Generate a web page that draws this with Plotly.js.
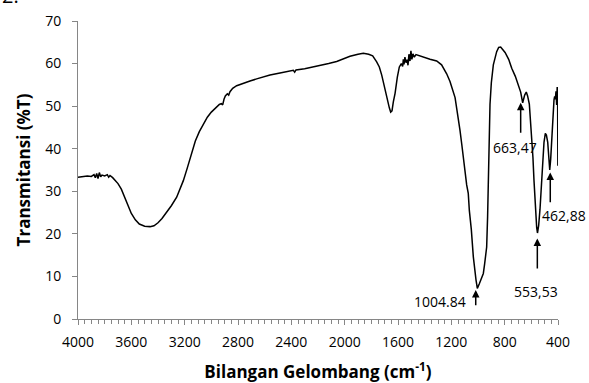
<!DOCTYPE html>
<html>
<head>
<meta charset="utf-8">
<script src="https://cdn.plot.ly/plotly-3.0.1.min.js"></script>
<style>html,body{margin:0;padding:0;background:#fff;}#chart{width:589px;height:383px;}</style>
</head>
<body>
<div id="chart"></div>
<script>
// Wavenumber (cm-1) and transmittance (%T)
const wavenumber = [4000,3960,3930,3900,3880,3870,3860,3850,3840,3830,3820,3800,3780,3770,3760,3740,3725,3700,3675,3650,3620,3600,3570,3540,3500,3460,3430,3400,3370,3340,3300,3260,3237,3210,3180,3150,3120,3090,3060,3030,3000,2970,2940,2925,2915,2905,2895,2880,2870,2860,2840,2810,2760,2710,2660,2610,2560,2485,2420,2385,2375,2365,2300,2250,2185,2120,2060,2010,1960,1900,1860,1820,1790,1760,1740,1722,1705,1685,1665,1655,1645,1635,1622,1605,1590,1575,1565,1560,1555,1548,1540,1532,1525,1518,1510,1503,1496,1488,1478,1465,1440,1400,1360,1310,1273,1235,1210,1172,1150,1135,1122,1110,1097,1085,1073,1065,1050,1035,1015,1005,990,975,960,950,935,928,923,916,910,900,885,860,845,830,815,797,770,747,720,697,680,665,650,638,628,615,605,597,588,580,570,560,554,545,535,525,515,505,495,487,477,468,462,455,448,443,436,430,425,420,415,410,406,403,401];
const transmittance = [33.3,33.5,33.6,33.5,33.9,33.2,34.2,33.0,34.4,33.4,33.8,33.6,33.9,33.3,33.7,33.2,32.6,31.8,30.5,28.5,26.5,24.8,23.3,22.3,21.8,21.7,21.9,22.6,23.6,24.8,26.6,28.6,30.2,32.5,35.5,38.8,41.8,44.0,45.8,47.4,48.6,49.6,50.4,50.6,50.3,51.6,52.4,52.9,52.6,53.4,54.2,54.8,55.4,55.9,56.4,56.9,57.3,57.8,58.2,58.4,58.0,58.5,58.8,59.1,59.5,60.0,60.5,61.1,61.7,62.2,62.4,62.2,61.8,60.4,59.2,57.3,54.8,51.9,49.6,48.6,48.9,51.0,53.0,56.8,59.2,60.0,59.3,61.0,59.8,61.5,60.2,60.9,59.6,62.2,60.6,63.0,61.0,62.3,61.5,62.1,61.8,61.5,61.0,60.6,59.7,57.6,55.8,52.0,48.0,44.3,41.1,38.0,33.3,31.5,29.5,25.5,21.0,14.6,9.2,7.2,8.3,9.6,10.7,13.0,16.9,24.0,32.5,42.0,50.4,55.5,59.7,62.8,63.8,63.9,63.4,62.6,61.0,58.9,57.0,55.1,53.3,50.8,52.6,53.3,52.4,50.5,46.5,43.5,38.0,32.5,26.0,21.5,20.2,22.0,25.8,31.5,36.6,41.5,43.6,43.2,41.5,37.5,35.0,37.5,42.0,44.5,48.5,51.5,52.3,51.6,53.5,50.3,54.5,53.6,36.0];

// Peak labels: arrow head position (data) and label position (data)
const peakLabels = ['1004.84','663,47','553,53','462,88'];
const arrowHeadX = [1017,680,555,458];
const arrowHeadY = [6.8,50.8,18.9,34.4];
const labelX = [1285,680,555,458];
const labelY = [4.1,40.6,6.6,24.3];
const arrowTailY = [2.9,43.4,11.5,27.1];

const xTickVals = [4000,3600,3200,2800,2400,2000,1600,1200,800,400];
const yTickVals = [0,10,20,30,40,50,60,70];

const FONT = '"Open Sans", "Noto Sans", sans-serif';
const axisGray = '#868686';
const labelFont = {family: FONT, size: 14, color: '#000'};

const annotations = [];
// 1004.84: label to the left of a short arrow
annotations.push({
  x: arrowHeadX[0], y: arrowHeadY[0], xref: 'x', yref: 'y',
  ax: arrowHeadX[0], ay: arrowTailY[0], axref: 'x', ayref: 'y',
  text: '', showarrow: true, arrowhead: 2, arrowsize: 1, arrowwidth: 1.5,
  arrowcolor: '#000', standoff: 0, startstandoff: 0
});
annotations.push({
  x: labelX[0], y: labelY[0], xref: 'x', yref: 'y',
  text: peakLabels[0], showarrow: false, font: labelFont,
  xanchor: 'center', yanchor: 'middle'
});
// other labels sit below their arrows
for (let i = 1; i < peakLabels.length; i++) {
  annotations.push({
    x: arrowHeadX[i], y: arrowHeadY[i], xref: 'x', yref: 'y',
    ax: arrowHeadX[i], ay: arrowTailY[i], axref: 'x', ayref: 'y',
    text: '', showarrow: true, arrowhead: 2, arrowsize: 1, arrowwidth: 1.5,
    arrowcolor: '#000', standoff: 0, startstandoff: 0
  });
}
annotations.push({x: 722, y: 40.4, xref: 'x', yref: 'y', text: peakLabels[1], showarrow: false, font: labelFont});
annotations.push({x: 565, y: 6.4, xref: 'x', yref: 'y', text: peakLabels[2], showarrow: false, font: labelFont});
annotations.push({x: 1.0, y: 24.3, xref: 'paper', yref: 'y', xanchor: 'center', xshift: 6, text: peakLabels[3], showarrow: false, font: labelFont});
annotations.push({
  x: 0, y: 1.0, xref: 'paper', yref: 'paper', xanchor: 'left', yanchor: 'bottom',
  xshift: -78, yshift: 10,
  text: '2.', showarrow: false, font: {family: FONT, size: 20, color: '#000'}
});

const trace = {
  x: wavenumber, y: transmittance, type: 'scatter', mode: 'lines',
  line: {color: '#000', width: 1.5}, hoverinfo: 'skip'
};

const layout = {
  width: 589, height: 383,
  margin: {l: 78, r: 30.7, t: 20.7, b: 63.7},
  paper_bgcolor: '#fff', plot_bgcolor: '#fff',
  showlegend: false,
  font: {family: FONT, size: 14, color: '#000'},
  xaxis: {
    range: [4000, 400], autorange: false,
    tickvals: xTickVals, ticktext: xTickVals.map(String),
    ticks: 'outside', ticklen: 5, tickwidth: 1, tickcolor: axisGray,
    minor: {dtick: 50, tick0: 0, ticks: 'outside', ticklen: 4, tickwidth: 1, tickcolor: axisGray, showgrid: false},
    showline: true, linecolor: axisGray, linewidth: 1,
    showgrid: false, zeroline: false,
    ticklabelstandoff: 5,
    tickfont: {family: FONT, size: 14, color: '#000'},
    title: {text: 'Bilangan Gelombang (cm<sup>-1</sup>)', font: {family: FONT, size: 17, color: '#000', weight: 'bold'}, standoff: 16}
  },
  yaxis: {
    range: [0, 70], autorange: false,
    tickvals: yTickVals, ticktext: yTickVals.map(String),
    ticks: 'outside', ticklen: 5, tickwidth: 1, tickcolor: axisGray,
    showline: true, linecolor: axisGray, linewidth: 1,
    showgrid: false, zeroline: false,
    ticklabelstandoff: 8,
    tickfont: {family: FONT, size: 14, color: '#000'},
    title: {text: 'Transmitansi (%T)', font: {family: FONT, size: 17, color: '#000', weight: 'bold'}, standoff: 10}
  },
  annotations: annotations
};

Plotly.newPlot('chart', [trace], layout, {staticPlot: true, displayModeBar: false});
</script>
</body>
</html>
